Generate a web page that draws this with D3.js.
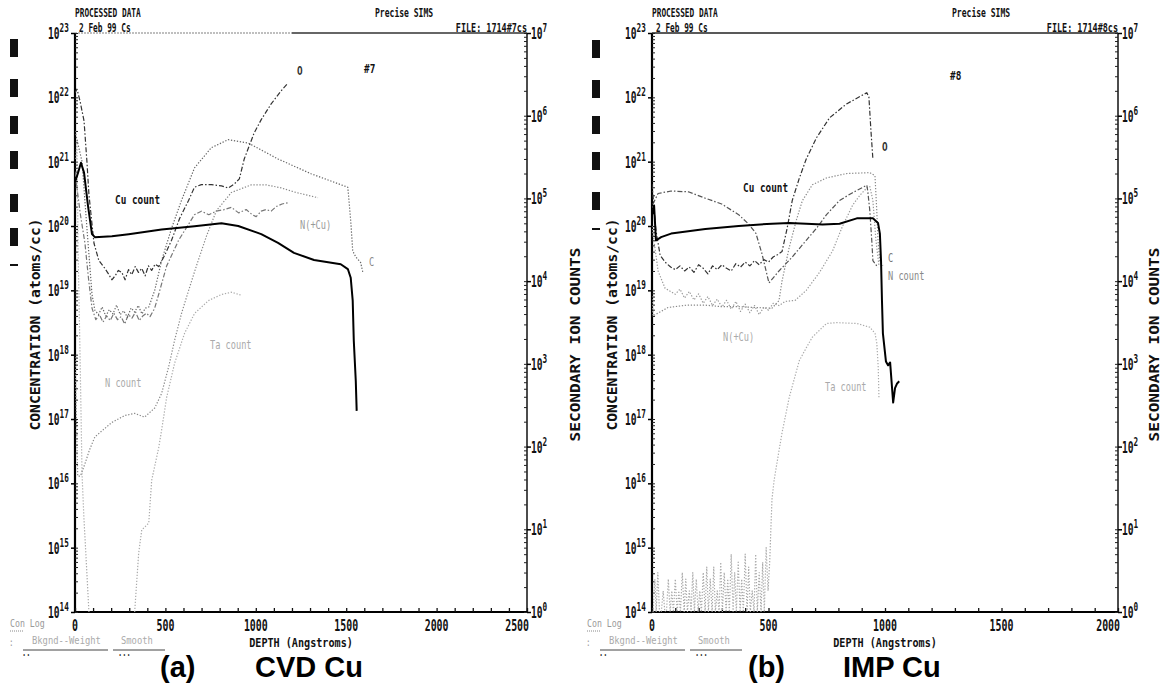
<!DOCTYPE html>
<html>
<head>
<meta charset="utf-8">
<script src="https://cdn.jsdelivr.net/npm/d3@7"></script>
<style>
  body { margin: 0; background: #fff; }
  svg { display: block; }
  .dos { font-family: "DejaVu Sans Mono", monospace; font-weight: bold; }
  .thin { font-family: "DejaVu Sans Mono", monospace; font-weight: normal; }
  .big { font-family: "Liberation Sans", Arial, sans-serif; font-weight: bold; }
</style>
</head>
<body>
<svg id="chart" width="1164" height="685"></svg>
<script>
// ---------- (a) CVD Cu  (FILE 1714#7cs) ----------
var cvdCuDepth = [0, 17, 33, 50, 72, 94, 110, 204, 297, 479, 661, 810, 903, 1030, 1123, 1211, 1322, 1470, 1509, 1525, 1536, 1542, 1553, 1558];
var cvdCuCount = [1.57e5, 2.05e5, 2.7e5, 2.05e5, 8.1e4, 3.7e4, 3.4e4, 3.5e4, 3.7e4, 4.2e4, 4.6e4, 5.0e4, 4.65e4, 3.7e4, 2.9e4, 2.2e4, 1.8e4, 1.6e4, 1.4e4, 1.1e4, 5.8e3, 1.9e3, 620, 270];

var cvdODepth = [0, 11, 28, 50, 66, 77, 105, 132, 165, 185, 204, 222, 240, 259, 277, 296, 314, 333, 351, 369, 388, 406, 424, 443, 463, 496, 534, 578, 628, 661, 699, 754, 810, 848, 881, 909, 936, 958, 991, 1030, 1085, 1140, 1178];
var cvdO = [1.18e22, 1.34e22, 8.7e21, 4.3e21, 1.0e21, 3.1e20, 5.4e19, 2.9e19, 2.2e19, 1.8e19, 1.46e19, 1.68e19, 2.04e19, 1.9e19, 1.46e19, 2.1e19, 1.75e19, 2.34e19, 1.9e19, 2.2e19, 1.68e19, 2.4e19, 2.04e19, 2.55e19, 2.34e19, 3.5e19, 6.0e19, 1.3e20, 2.5e20, 4.0e20, 4.4e20, 4.4e20, 4.2e20, 3.9e20, 4.5e20, 5.4e20, 1.1e21, 1.6e21, 2.8e21, 4.5e21, 7.9e21, 1.26e22, 1.66e22];

var cvdCDepth = [0, 39, 66, 94, 110, 130, 150, 170, 190, 210, 230, 250, 270, 290, 310, 330, 350, 370, 390, 408, 441, 479, 534, 589, 661, 754, 848, 958, 1123, 1305, 1509, 1525, 1536, 1553, 1580, 1592];
var cvdC = [3.0e21, 1.0e21, 9.2e19, 8.7e18, 4.9e18, 4.2e18, 5.5e18, 4.0e18, 5.0e18, 4.3e18, 5.9e18, 4.2e18, 4.8e18, 3.8e18, 5.3e18, 4.6e18, 5.8e18, 4.3e18, 5.3e18, 5.5e18, 1.0e19, 2.9e19, 9.2e19, 2.5e20, 8.0e20, 1.65e21, 2.2e21, 1.95e21, 1.1e21, 6.5e20, 4.0e20, 1.2e20, 4.1e19, 3.3e19, 2.7e19, 1.9e19];

var cvdNCuDepth = [0, 6, 30, 55, 75, 94, 115, 135, 155, 175, 195, 215, 235, 255, 275, 295, 315, 335, 355, 375, 395, 415, 440, 463, 507, 573, 661, 699, 740, 782, 825, 865, 905, 947, 980, 1002, 1030, 1057, 1085, 1112, 1145, 1178];
var cvdNCu = [7.0e20, 5.0e20, 1.5e20, 5.4e19, 1.5e19, 5.3e18, 3.5e18, 4.2e18, 3.2e18, 4.0e18, 3.4e18, 4.4e18, 3.5e18, 3.9e18, 3.0e18, 4.2e18, 3.7e18, 4.6e18, 3.4e18, 4.0e18, 4.4e18, 3.9e18, 5.2e18, 8.7e18, 2.4e19, 6.0e19, 1.5e20, 1.7e20, 1.5e20, 1.7e20, 1.8e20, 1.95e20, 1.6e20, 1.8e20, 1.5e20, 1.4e20, 1.7e20, 1.8e20, 1.7e20, 2.0e20, 2.2e20, 2.3e20];

var cvdNDepth = [0, 8, 15, 30, 55, 80, 110, 204, 275, 330, 385, 441, 479, 518, 551, 589, 628, 672, 727, 782, 865, 975, 1057, 1140, 1223, 1344];
var cvdNCount = [1210, 222, 44, 44, 62, 91, 131, 196, 237, 252, 227, 293, 438, 920, 1930, 4060, 7670, 1.54e4, 3.5e4, 7.1e4, 1.18e5, 1.46e5, 1.46e5, 1.34e5, 1.18e5, 1.02e5];

var cvdTaDepth = [5, 11, 17, 28, 39, 50, 66, 77, 200, 330, 352, 369, 408, 424, 463, 479, 507, 551, 606, 661, 738, 810, 865, 920];
var cvdTaCount = [3.0e5, 5.0e5, 2.36e4, 1240, 46, 12.7, 2.9, 1, null, 1, 5.1, 9.8, 11.9, 39, 97, 158, 394, 1020, 2340, 4060, 5820, 6890, 7350, 6750];

// ---------- (b) IMP Cu  (FILE 1714#8cs) ----------
var impCuDepth = [0, 9, 17, 39, 82, 229, 372, 515, 589, 662, 732, 805, 879, 948, 970, 978, 983, 987, 991, 1004, 1013, 1022, 1035, 1043, 1052, 1061];
var impCuCount = [6.25e4, 8.2e4, 3.1e4, 3.4e4, 3.76e4, 4.27e4, 4.65e4, 4.95e4, 5.06e4, 4.95e4, 4.85e4, 4.95e4, 5.74e4, 5.74e4, 5.06e4, 3.76e4, 1.75e4, 5820, 2340, 1070, 960, 1040, 340, 510, 580, 615];

var impODepth = [0, 4, 17, 35, 56, 80, 100, 120, 140, 160, 180, 200, 220, 240, 260, 280, 300, 320, 340, 360, 380, 400, 420, 440, 460, 480, 500, 520, 540, 558, 580, 602, 632, 662, 706, 762, 835, 922, 931, 939, 948];
var impO = [4.5e20, 3.0e20, 8.5e19, 3.5e19, 2.75e19, 2.3e19, 2.1e19, 2.4e19, 2.0e19, 2.3e19, 1.9e19, 2.5e19, 2.2e19, 1.8e19, 2.4e19, 2.1e19, 2.5e19, 2.2e19, 2.0e19, 2.6e19, 2.3e19, 2.75e19, 2.4e19, 2.9e19, 2.5e19, 3.0e19, 2.75e19, 3.3e19, 3.6e19, 4.0e19, 9.2e19, 2.5e20, 5.5e20, 1.1e21, 2.35e21, 4.8e21, 7.9e21, 1.18e22, 1.0e22, 3.3e21, 1.1e21];

var impCDepth = [0, 4, 26, 82, 156, 229, 299, 372, 416, 446, 472, 502, 545, 602, 662, 706, 749, 805, 861, 922, 926, 935, 944, 948, 970];
var impC = [1.5e20, 2.2e20, 3.2e20, 3.5e20, 3.4e20, 2.7e20, 2.2e20, 1.5e20, 1.06e20, 7.7e19, 3.7e19, 1.3e19, 2.0e19, 3.3e19, 6.0e19, 9.2e19, 1.5e20, 2.5e20, 3.3e20, 4.3e20, 3.5e20, 1.7e20, 5.4e19, 2.9e19, 2.25e19];

var impNDepth = [0, 4, 69, 150, 229, 300, 372, 440, 515, 545, 558, 589, 619, 645, 688, 749, 835, 935, 957, 965, 970, 978, 991];
var impNCount = [6600, 3800, 4800, 5130, 5130, 4910, 4910, 4800, 4710, 5820, 1.0e4, 2.56e4, 5.4e4, 9.35e4, 1.46e5, 1.77e5, 2.0e5, 2.05e5, 1.88e5, 6.8e4, 3.1e4, 1.75e4, 1.54e4];

var impNCuDepth = [0, 26, 56, 100, 120, 140, 160, 180, 200, 220, 240, 260, 280, 300, 320, 340, 360, 380, 400, 420, 440, 460, 480, 500, 520, 545, 571, 615, 662, 719, 775, 818, 861, 892, 922, 935, 948, 961, 974];
var impNCu = [1.0e20, 2.0e19, 1.08e19, 8.7e18, 1.04e19, 7.6e18, 9.6e18, 7.1e18, 8.8e18, 6.3e18, 8.0e18, 5.8e18, 7.3e18, 5.5e18, 7.0e18, 5.1e18, 6.7e18, 4.7e18, 6.1e18, 4.5e18, 5.8e18, 4.2e18, 5.5e18, 4.9e18, 6.3e18, 5.8e18, 6.7e18, 7.0e18, 1.0e19, 1.9e19, 4.1e19, 1.0e20, 2.1e20, 3.0e20, 3.9e20, 4.1e20, 2.5e20, 6.0e19, 2.45e19];

var impTaDepth = [5, 12, 18, 25, 32, 40, 48, 55, 62, 70, 78, 85, 92, 100, 108, 115, 122, 130, 138, 145, 152, 160, 168, 175, 182, 190, 198, 205, 212, 220, 228, 235, 242, 250, 258, 265, 272, 280, 288, 295, 302, 310, 318, 325, 332, 340, 348, 355, 362, 370, 378, 385, 392, 400, 408, 415, 422, 430, 438, 445, 452, 460, 468, 475, 482, 490, 498, 505,
                  515, 524, 545, 558, 589, 632, 662, 688, 749, 792, 879, 935, 957, 965, 971, 974];
var impTaCount = [1, 2.5, 1, 3, 1, 1, 1.8, 1, 1, 2.5, 1, 1.8, 1, 2.5, 1, 1.8, 1, 3, 1, 2.5, 1, 1.8, 1, 3, 1, 2.5, 1, 1.8, 1, 3, 1, 3.5, 1, 2.5, 1, 3.5, 1, 1.8, 1, 4, 1, 3, 1, 2.5, 1, 5, 1, 3, 1, 4, 1, 2.5, 1, 5, 1, 3.5, 1, 1.8, 1, 5, 1, 3, 1, 4, 1, 6, 1.8, 4,
                  23, 39, 89, 146, 394, 1090, 1560, 2100, 3080, 3150, 3080, 2770, 2340, 1770, 900, 394];

// axis ranges and labels
var concDomain = [1e14, 1e23];
var countDomain = [1, 1e7];
var cvdTicks = [0, 500, 1000, 1500, 2000, 2500];
var impTicks = [0, 500, 1000, 1500, 2000];

var svg = d3.select("#chart");

function dos(g, x, y, str, size, o) {
  o = o || {};
  return g.append("text")
    .attr("class", o.cls || "dos")
    .attr("transform", "translate(" + x + "," + y + ")" + (o.rot ? " rotate(" + o.rot + ")" : "") + " scale(" + (o.sx || 0.7) + ",1)")
    .attr("font-size", size)
    .attr("text-anchor", o.anchor || "start")
    .attr("fill", o.fill || "#111")
    .text(str);
}

function power(g, x, y, exp) {
  var t = g.append("text")
    .attr("class", "dos")
    .attr("transform", "translate(" + x + "," + y + ") scale(0.64,1)")
    .attr("font-size", 15)
    .attr("fill", "#111");
  t.append("tspan").text("10");
  t.append("tspan").attr("font-size", 12).attr("dy", -7).text(exp);
}

function panel(p) {
  var g = svg.append("g");
  var x = d3.scaleLinear().domain([0, p.xMax]).range([p.left, p.right]);
  var yC = d3.scaleLog().domain(concDomain).range([p.bottom, p.top]);
  var yN = d3.scaleLog().domain(countDomain).range([p.bottom, p.top]);
  var midY = (p.top + p.bottom) / 2;

  var clipId = "clip" + p.id;
  svg.append("clipPath").attr("id", clipId).append("rect")
    .attr("x", p.left).attr("y", p.top - 2).attr("width", p.right - p.left).attr("height", p.bottom - p.top + 2);

  // header
  dos(g, p.left, 17, "PROCESSED DATA", 13, {sx: 0.6});
  dos(g, p.left + 4, 32, "2 Feb 99   Cs", 13, {sx: 0.6});
  dos(g, p.left + 300, 17, "Precise SIMS", 13, {sx: 0.62});
  dos(g, p.right, 32, "FILE: " + p.file, 13, {sx: 0.65, anchor: "end"});

  // black marker bars at the far left
  p.bars.forEach(function (b) {
    g.append("rect").attr("x", p.barX).attr("y", b[0]).attr("width", 8).attr("height", b[1]).attr("fill", "#111");
  });

  // frame (top edge of the left sheet is faint on its left part)
  if (p.id === "a") {
    g.append("line").attr("x1", p.left).attr("x2", x(1200)).attr("y1", p.top).attr("y2", p.top)
      .attr("stroke", "#aaa").attr("stroke-width", 1.3).attr("stroke-dasharray", "2,1");
    g.append("line").attr("x1", x(1200)).attr("x2", p.right).attr("y1", p.top).attr("y2", p.top)
      .attr("stroke", "#333").attr("stroke-width", 1.3);
  } else {
    g.append("line").attr("x1", p.left).attr("x2", p.right).attr("y1", p.top).attr("y2", p.top)
      .attr("stroke", "#222").attr("stroke-width", 1.3);
  }
  g.append("line").attr("x1", p.left).attr("x2", p.left).attr("y1", p.top).attr("y2", p.bottom)
    .attr("stroke", "#000").attr("stroke-width", 2.2);
  g.append("line").attr("x1", p.right).attr("x2", p.right).attr("y1", p.top).attr("y2", p.bottom)
    .attr("stroke", "#111").attr("stroke-width", 1.5);
  g.append("line").attr("x1", p.left).attr("x2", p.right).attr("y1", p.bottom).attr("y2", p.bottom)
    .attr("stroke", "#000").attr("stroke-width", 2.2);

  // log ticks (minor inside, decades longer)
  var cTicks = yC.ticks(60), nTicks = yN.ticks(60);
  var isDecade = function (v) { return Math.abs(Math.log10(v) - Math.round(Math.log10(v))) < 1e-6; };
  g.append("g").attr("transform", "translate(" + p.left + ",0)")
    .call(d3.axisRight(yC).tickValues(cTicks).tickSize(3).tickFormat(""))
    .call(function (a) { a.select(".domain").remove(); a.selectAll("line").attr("stroke", "#222"); });
  g.append("g").attr("transform", "translate(" + p.left + ",0)")
    .call(d3.axisLeft(yC).tickValues(cTicks.filter(isDecade)).tickSize(4).tickFormat(""))
    .call(function (a) { a.select(".domain").remove(); a.selectAll("line").attr("stroke", "#000").attr("stroke-width", 1.5); });
  g.append("g").attr("transform", "translate(" + p.right + ",0)")
    .call(d3.axisLeft(yN).tickValues(nTicks).tickSize(3).tickFormat(""))
    .call(function (a) { a.select(".domain").remove(); a.selectAll("line").attr("stroke", "#222"); });
  g.append("g").attr("transform", "translate(" + p.right + ",0)")
    .call(d3.axisRight(yN).tickValues(nTicks.filter(isDecade)).tickSize(4).tickFormat(""))
    .call(function (a) { a.select(".domain").remove(); a.selectAll("line").attr("stroke", "#000").attr("stroke-width", 1.5); });
  g.append("g").attr("transform", "translate(0," + p.bottom + ")")
    .call(d3.axisTop(x).ticks(p.xMax / 100).tickSize(4).tickFormat(""))
    .call(function (a) { a.select(".domain").remove(); a.selectAll("line").attr("stroke", "#111").attr("stroke-width", 1.3); });

  // tick labels
  cTicks.filter(isDecade).forEach(function (v) {
    power(g, p.left - 27, yC(v) + 6, Math.round(Math.log10(v)));
  });
  nTicks.filter(isDecade).forEach(function (v) {
    power(g, p.right + 4, yN(v) + 6, Math.round(Math.log10(v)));
  });
  p.ticks.forEach(function (v, i) {
    var last = i === p.ticks.length - 1;
    dos(g, last ? x(v) + 2 : x(v), 631, String(v), 15, {sx: 0.66, anchor: last ? "end" : "middle"});
  });

  // axis titles
  dos(g, p.left - 35, midY + 2, "CONCENTRATION (atoms/cc)", 14, {rot: -90, sx: 1.05, anchor: "middle"});
  dos(g, p.titleRightX, midY + 22, "SECONDARY ION COUNTS", 14, {rot: -90, sx: 1.15, anchor: "middle"});
  dos(g, (p.left + p.right) / 2, 647, "DEPTH (Angstroms)", 13, {sx: 0.78, anchor: "middle"});

  // lower-left controls
  dos(g, p.left - 65, 627, "Con Log", 11, {cls: "thin", fill: "#999", sx: 0.75});
  g.append("line").attr("x1", p.left - 65).attr("x2", p.left - 51).attr("y1", 631).attr("y2", 631)
    .attr("stroke", "#888").attr("stroke-dasharray", "1,1");
  dos(g, p.left - 66, 646, ":", 11, {cls: "thin", fill: "#999"});
  dos(g, p.left - 43, 644, "Bkgnd--Weight", 11, {cls: "thin", fill: "#aaa", sx: 0.8});
  dos(g, p.left + 46, 644, "Smooth", 11, {cls: "thin", fill: "#aaa", sx: 0.8});
  g.append("line").attr("x1", p.left - 52).attr("x2", p.left + 33).attr("y1", 650).attr("y2", 650).attr("stroke", "#444");
  g.append("line").attr("x1", p.left + 38).attr("x2", p.left + 90).attr("y1", 650).attr("y2", 650).attr("stroke", "#444");
  dos(g, p.left - 53, 656, "..", 10, {fill: "#333"});
  dos(g, p.left + 43, 656, "...", 10, {fill: "#333"});

  // big caption
  g.append("text").attr("class", "big").attr("x", p.capX).attr("y", 677).attr("font-size", 29).attr("fill", "#000").text(p.capA);
  g.append("text").attr("class", "big").attr("x", p.capX + 95).attr("y", 677).attr("font-size", 29).attr("fill", "#000").text(p.capB);

  // series
  var plot = g.append("g").attr("clip-path", "url(#" + clipId + ")");
  p.series.forEach(function (s) {
    var pts = s.depth.map(function (d, i) { return {d: d, v: s.values[i]}; });
    var yy = s.axis === "count" ? yN : yC;
    var line = d3.line()
      .defined(function (q) { return q.v != null; })
      .x(function (q) { return x(q.d); })
      .y(function (q) { return yy(q.v); });
    plot.append("path").datum(pts).attr("d", line)
      .attr("fill", "none").attr("stroke", s.color).attr("stroke-width", s.width)
      .attr("stroke-dasharray", s.dash || null).attr("stroke-linejoin", "round");
  });

  // in-plot labels
  p.labels.forEach(function (l) {
    dos(g, l[0], l[1], l[2], l[3], {cls: l[5] || "dos", fill: l[4], sx: 0.72});
  });
}

var dotted = "1.3,1.7", dashDot = "5,2,1.5,2";

panel({
  id: "a", left: 75, right: 527, top: 33, bottom: 612, xMax: 2500, ticks: cvdTicks,
  file: "1714#7cs", barX: 10, titleRightX: 580,
  bars: [[39, 18], [79, 18], [116, 18], [151, 18], [194, 18], [228, 18], [264, 2]],
  capX: 160, capA: "(a)", capB: "CVD Cu",
  series: [
    {depth: cvdTaDepth, values: cvdTaCount, axis: "count", color: "#aaa", width: 1.2, dash: dotted},
    {depth: cvdNDepth, values: cvdNCount, axis: "count", color: "#888", width: 1.2, dash: dotted},
    {depth: cvdNCuDepth, values: cvdNCu, axis: "conc", color: "#777", width: 1.2, dash: dashDot},
    {depth: cvdCDepth, values: cvdC, axis: "conc", color: "#666", width: 1.2, dash: dotted},
    {depth: cvdODepth, values: cvdO, axis: "conc", color: "#333", width: 1.2, dash: dashDot},
    {depth: cvdCuDepth, values: cvdCuCount, axis: "count", color: "#000", width: 2}
  ],
  labels: [
    [297, 75, "O", 13, "#333"],
    [364, 73, "#7", 13, "#111"],
    [115, 204, "Cu count", 13, "#111"],
    [300, 229, "N(+Cu)", 12, "#999", "thin"],
    [369, 266, "C", 12, "#888", "thin"],
    [210, 349, "Ta count", 12, "#aaa", "thin"],
    [105, 387, "N count", 12, "#aaa", "thin"]
  ]
});

panel({
  id: "b", left: 652, right: 1118, top: 33, bottom: 612, xMax: 2000, ticks: impTicks,
  file: "1714#8cs", barX: 592, titleRightX: 1159,
  bars: [[40, 18], [80, 18], [116, 18], [152, 18], [192, 18], [228, 2]],
  capX: 748, capA: "(b)", capB: "IMP Cu",
  series: [
    {depth: impTaDepth, values: impTaCount, axis: "count", color: "#aaa", width: 1.2, dash: dotted},
    {depth: impNDepth, values: impNCount, axis: "count", color: "#888", width: 1.2, dash: dotted},
    {depth: impNCuDepth, values: impNCu, axis: "conc", color: "#999", width: 1.2, dash: dotted},
    {depth: impCDepth, values: impC, axis: "conc", color: "#555", width: 1.2, dash: dashDot},
    {depth: impODepth, values: impO, axis: "conc", color: "#333", width: 1.2, dash: dashDot},
    {depth: impCuDepth, values: impCuCount, axis: "count", color: "#000", width: 2}
  ],
  labels: [
    [882, 151, "O", 13, "#333"],
    [950, 80, "#8", 13, "#111"],
    [743, 192, "Cu count", 13, "#111"],
    [888, 262, "C", 12, "#777", "thin"],
    [888, 280, "N count", 12, "#888", "thin"],
    [723, 341, "N(+Cu)", 12, "#aaa", "thin"],
    [825, 391, "Ta count", 12, "#aaa", "thin"]
  ]
});
</script>
</body>
</html>
